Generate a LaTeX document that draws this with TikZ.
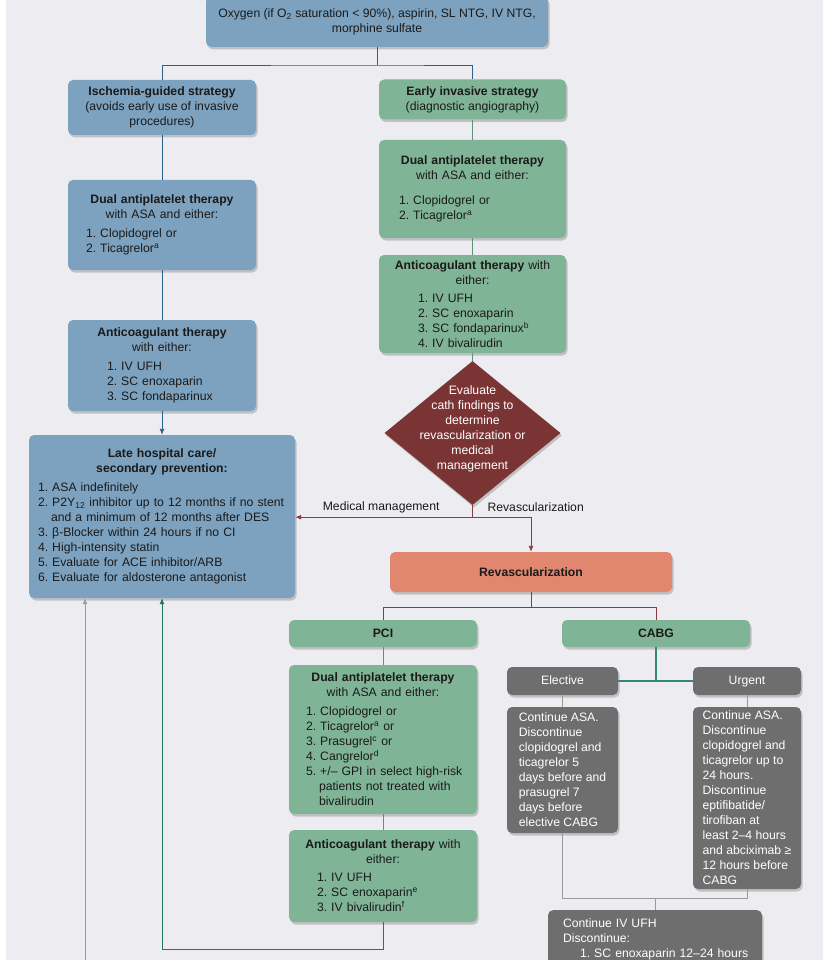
\documentclass[tikz,border=0pt]{standalone}
\usepackage{fontspec}
\setmainfont{Liberation Sans}
\usetikzlibrary{arrows.meta,positioning,shapes.geometric,shadows}
\setlength{\parindent}{0pt}
\frenchspacing
\definecolor{panel}{HTML}{EDECF1}
\definecolor{boxblue}{HTML}{7DA2BF}
\definecolor{boxgreen}{HTML}{80B497}
\definecolor{boxgrey}{HTML}{6E6E6E}
\definecolor{evalred}{HTML}{7A3434}
\definecolor{revsalmon}{HTML}{E1876F}
\definecolor{txtdark}{HTML}{1A1A1A}
\definecolor{lineblue}{HTML}{2B6088}
\definecolor{linered}{HTML}{8A3B3B}
\definecolor{linegreen}{HTML}{5C9478}
\definecolor{linedkgreen}{HTML}{1C7A5C}
\definecolor{lineteal}{HTML}{2F8A78}
\definecolor{linegrey}{HTML}{9A9A9A}

\begin{document}
\begin{tikzpicture}[x=1pt,y=-1pt,>={Latex[length=6pt,width=5pt]},
  every node/.style={font=\fontsize{12.2}{15}\selectfont,text=txtdark},
  dropsh/.style={drop shadow={shadow xshift=1.5pt,shadow yshift=-2.5pt,opacity=.4}},
  box/.style={dropsh,rounded corners=5pt,inner xsep=6pt,inner ysep=4pt},
  bluebox/.style={box,fill=boxblue},
  greenbox/.style={box,fill=boxgreen},
  greybox/.style={box,fill=boxgrey,text=white,inner ysep=2pt},
  bluelink/.style={draw=lineblue,line width=.9pt},
  redlink/.style={draw=linered,line width=.9pt},
  greenlink/.style={draw=linegreen,line width=.9pt},
  dkgreenlink/.style={draw=linedkgreen,line width=.9pt},
  teallink/.style={draw=lineteal,line width=1.2pt},
  greylink/.style={draw=linegrey,line width=.9pt}]

\useasboundingbox (0,0) rectangle (836,960);
\fill[white] (0,0) rectangle (836,960);
\fill[panel] (6,0) rectangle (823,960);

% initial therapy and the two strategies
\node[bluebox,anchor=south,minimum width=342pt,inner ysep=12pt,align=center] (start) at (377,47) {Oxygen (if O\textsubscript{2} saturation < 90\%), aspirin, SL NTG, IV NTG,\\morphine sulfate};
\node[bluebox,minimum width=188pt,minimum height=55pt,align=center] (ischemia) at (162,107.5) {\textbf{Ischemia-guided strategy}\\(avoids early use of invasive\\procedures)};
\node[greenbox,minimum width=187pt,minimum height=40pt,align=center] (invasive) at (472.5,99.5) {\textbf{Early invasive strategy}\\(diagnostic angiography)};

% ischemia-guided column
\node[bluebox,minimum height=90pt,text width=176pt,align=left] (dapt1) at (162,225) {{\centering\textbf{Dual antiplatelet therapy}\\with ASA and either:\par}\vspace{4pt}\hspace*{12pt}1. Clopidogrel or\\\hspace*{12pt}2. Ticagrelor\textsuperscript{a}};
\node[bluebox,minimum height=91pt,text width=176pt,align=left] (ac1) at (162,365.5) {{\centering\textbf{Anticoagulant therapy}\\with either:\par}\vspace{4pt}\hspace*{33pt}1. IV UFH\\\hspace*{33pt}2. SC enoxaparin\\\hspace*{33pt}3. SC fondaparinux};
\node[bluebox,minimum height=163pt,text width=258pt,inner xsep=4pt,align=left] (late) at (162,516.5) {{\centering\textbf{Late hospital care/}\\\textbf{secondary prevention:}\par}\vspace{4pt}
\hspace*{5pt}1. ASA indefinitely\\
\hspace*{5pt}2. P2Y\textsubscript{12} inhibitor up to 12 months if no stent\\
\hspace*{18pt}and a minimum of 12 months after DES\\
\hspace*{5pt}3. β-Blocker within 24 hours if no CI\\
\hspace*{5pt}4. High-intensity statin\\
\hspace*{5pt}5. Evaluate for ACE inhibitor/ARB\\
\hspace*{5pt}6. Evaluate for aldosterone antagonist};

% early invasive column
\node[greenbox,minimum height=98pt,text width=175pt,align=left] (dapt2) at (472.5,189) {{\centering\textbf{Dual antiplatelet therapy}\\with ASA and either:\par}\vspace{10pt}\hspace*{14pt}1. Clopidogrel or\\\hspace*{14pt}2. Ticagrelor\textsuperscript{a}};
\node[greenbox,minimum height=98pt,text width=175pt,align=left] (ac2) at (472.5,304) {{\centering\textbf{Anticoagulant therapy} with\\either:\par}\vspace{3pt}\hspace*{33pt}1. IV UFH\\\hspace*{33pt}2. SC enoxaparin\\\hspace*{33pt}3. SC fondaparinux\textsuperscript{b}\\\hspace*{33pt}4. IV bivalirudin};
\node[diamond,dropsh,fill=evalred,minimum width=176pt,minimum height=144pt,inner sep=0pt] (eval) at (472.5,433) {};
\node[text=white,align=center] (evaltxt) at (472.5,429) {Evaluate\\cath findings to\\determine\\revascularization or\\medical\\management};
\node[anchor=east] (medlbl) at (443,507) {Medical management};
\node[anchor=west] (revlbl) at (484,507) {Revascularization};
\node[box,fill=revsalmon,minimum width=282pt,minimum height=40pt] (revasc) at (531,572) {\textbf{Revascularization}};

% PCI
\node[greenbox,minimum width=188pt,minimum height=27pt] (pci) at (383,633.5) {\textbf{PCI}};
\node[greenbox,minimum height=149pt,text width=176pt,align=left] (dapt3) at (383,739.5) {{\centering\textbf{Dual antiplatelet therapy}\\with ASA and either:\par}\vspace{4pt}
\hspace*{11pt}1. Clopidogrel or\\
\hspace*{11pt}2. Ticagrelor\textsuperscript{a} or\\
\hspace*{11pt}3. Prasugrel\textsuperscript{c} or\\
\hspace*{11pt}4. Cangrelor\textsuperscript{d}\\
\hspace*{11pt}5. +/– GPI in select high-risk\\
\hspace*{24pt}patients not treated with\\
\hspace*{24pt}bivalirudin};
\node[greenbox,minimum height=92pt,text width=176pt,align=left] (ac3) at (383,876) {{\centering\textbf{Anticoagulant therapy} with\\either:\par}\vspace{3pt}\hspace*{22pt}1. IV UFH\\\hspace*{22pt}2. SC enoxaparin\textsuperscript{e}\\\hspace*{22pt}3. IV bivalirudin\textsuperscript{f}};

% CABG
\node[greenbox,minimum width=188pt,minimum height=27pt] (cabg) at (656,633.5) {\textbf{CABG}};
\node[greybox,minimum width=111pt,minimum height=28pt] (elective) at (562.5,681) {\strut Elective};
\node[greybox,minimum width=108pt,minimum height=28pt] (urgent) at (747,681) {\strut Urgent};
\node[greybox,minimum width=111pt,minimum height=126pt,align=left] (electdet) at (562.5,770) {Continue ASA.\\Discontinue\\clopidogrel and\\ticagrelor 5\\days before and\\prasugrel 7\\days before\\elective CABG};
\node[greybox,minimum width=108pt,minimum height=182pt,align=left] (urgentdet) at (747,798) {Continue ASA.\\Discontinue\\clopidogrel and\\ticagrelor up to\\24 hours.\\Discontinue\\eptifibatide/\\tirofiban at\\least 2–4 hours\\and abciximab ≥\\12 hours before\\CABG};
\node[greybox,anchor=north,minimum width=214pt,text width=198pt,inner xsep=8pt,inner ysep=8pt,align=left] (contufh) at (655,910) {\hspace*{7pt}Continue IV UFH\\\hspace*{7pt}Discontinue:\\\hspace*{24pt}1. SC enoxaparin 12–24 hours\par\vspace{30pt}\mbox{}};
\coordinate (offpage) at (85,1000);

\draw[bluelink] (start.south) -- ++(0,18) coordinate (fork1);
\draw[bluelink] (ischemia.north) |- (fork1) -| (invasive.north);
\draw[bluelink] (ischemia) -- (dapt1);
\draw[bluelink] (dapt1) -- (ac1);
\draw[bluelink,->] (ac1) -- (late);
\draw[greenlink] (invasive) -- (dapt2);
\draw[greenlink] (dapt2) -- (ac2);
\draw[greenlink] (ac2) -- (eval);
\draw[redlink] (eval.south) -- ++(0,12) coordinate (fork2);
\draw[redlink,->] (fork2) -- (fork2 -| late.east);
\draw[redlink,->] (fork2) -| (revasc.north);
\draw[redlink] (revasc.south) -- ++(0,15) coordinate (fork3);
\draw[redlink] (pci.north) |- (fork3) -| (cabg.north);
\draw[greenlink] (pci) -- (dapt3);
\draw[greenlink] (dapt3) -- (ac3);
\draw[dkgreenlink,->] (ac3.south) -- ++(0,27) -| (late.south);
\draw[teallink] (cabg) -- (cabg |- elective);
\draw[teallink] (elective) -- (urgent);
\draw[greylink] (elective) -- (electdet);
\draw[greylink] (urgent) -- (urgentdet);
\draw[greylink] (electdet.south) -- ++(0,65) -| (urgentdet.south);
\draw[greylink] (contufh.north) -- ++(0,-12);
\draw[greylink,->] (offpage) -- (offpage |- late.south);
\end{tikzpicture}
\end{document}
